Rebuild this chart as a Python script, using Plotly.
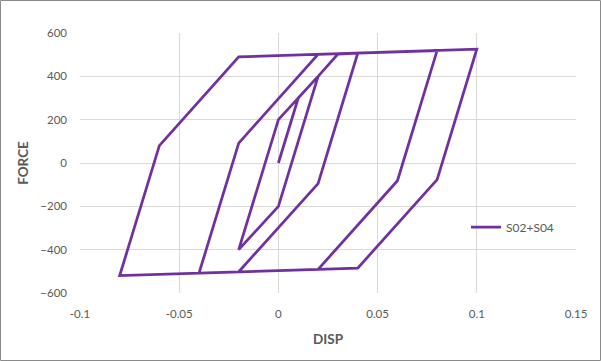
import plotly.graph_objects as go

# Hysteresis path (DISP, FORCE)
disp = [0.0, 0.01, 0.02, 0.0, -0.02, 0.0, 0.02, 0.03, 0.04, 0.02, -0.02, -0.04,
        -0.02, 0.02, 0.08, 0.06, 0.02, -0.08, -0.06, -0.02, 0.10, 0.08, 0.04, 0.02]
force = [0, 300, 400, -200, -400, 200, 400, 503, 507, -95, -502, -508,
         92, 501, 519, -82, -491, -520, 80, 490, 525, -77, -485, -491]
series_name = "S02+S04"

x_ticks = [-0.1, -0.05, 0, 0.05, 0.1, 0.15]
x_labels = ["-0.1", "-0.05", "0", "0.05", "0.1", "0.15"]
y_ticks = [-600, -400, -200, 0, 200, 400, 600]

W, H = 601, 361
ML, MR, MT, MB = 80, 25, 33, 68
pw, ph = W - ML - MR, H - MT - MB

fig = go.Figure()
fig.add_trace(go.Scatter(
    x=disp, y=force, mode="lines", name=series_name,
    line=dict(color="#7030A0", width=2.75),
    showlegend=True,
))

font_fam = "Lato, Open Sans, sans-serif"
grid = "#D9D9D9"
txt = "#595959"

fig.update_layout(
    width=W, height=H,
    margin=dict(l=ML, r=MR, t=MT, b=MB),
    paper_bgcolor="white", plot_bgcolor="white",
    font=dict(family=font_fam, size=11, color=txt),
    xaxis=dict(
        range=[-0.1, 0.15], tickvals=x_ticks, ticktext=x_labels,
        showgrid=True, gridcolor=grid, gridwidth=1,
        zeroline=False, showline=False,
        ticks="", ticklabelstandoff=12,
        tickfont=dict(size=11.5, color=txt),
        title=dict(text="<b>DISP</b>", font=dict(size=13.5, color=txt), standoff=16),
    ),
    yaxis=dict(
        range=[-600, 600], tickvals=y_ticks,
        showgrid=True, gridcolor=grid, gridwidth=1,
        zeroline=False, showline=False,
        ticks="", ticklabelstandoff=12,
        tickfont=dict(size=11.5, color=txt),
        title=dict(text="<b>FORCE</b>", font=dict(size=13.5, color=txt), standoff=8),
    ),
    legend=dict(
        x=(466 - ML) / pw, y=(MT + ph - 227) / ph,
        xanchor="left", yanchor="middle",
        bgcolor="rgba(0,0,0,0)", font=dict(size=12, color=txt),
    ),
    showlegend=True,
)

# outer chart border
fig.add_shape(
    type="rect", xref="paper", yref="paper",
    x0=(-ML + 0.5) / pw, x1=(pw + MR - 0.5) / pw,
    y0=(-MB + 0.5) / ph, y1=(ph + MT - 0.5) / ph,
    line=dict(color="#8A8A8A", width=1), fillcolor="rgba(0,0,0,0)",
    layer="below",
)

fig.write_html("out.html")
